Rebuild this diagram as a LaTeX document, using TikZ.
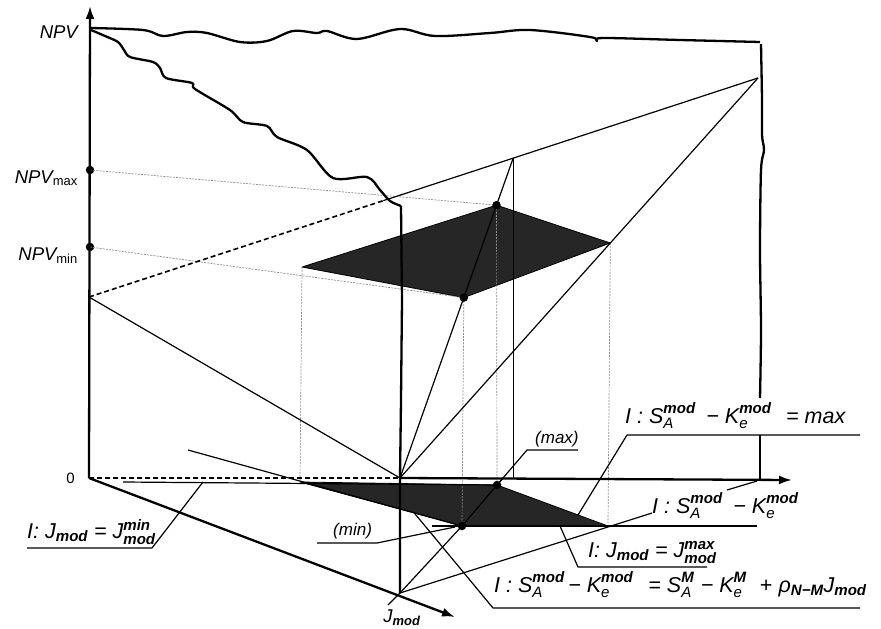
\documentclass[tikz,border=0pt]{standalone}
\usepackage{amsmath}
\usepackage{fontspec}
\setmainfont{Liberation Sans}
\usetikzlibrary{arrows.meta,calc}
\newcommand{\mo}{\text{\bfseries\itshape mod}}
\newcommand{\bi}[1]{\text{\bfseries\itshape #1}}
\newcommand{\ti}[1]{\text{\itshape #1}}
\begin{document}
\begin{tikzpicture}[x=1pt,y=-1pt,
  thk/.style={line width=2.3pt},
  thn/.style={line width=1.2pt},
  proj/.style={line width=0.7pt, black!45, dash pattern=on 2pt off 1.2pt},
  dsh/.style={line width=1.6pt, dash pattern=on 5pt off 3pt},
  quad/.style={fill=black!85, draw=black, line width=0.8pt},
  dot/.style={circle, fill=black, inner sep=0pt, minimum size=8.5pt},
  lbl/.style={font=\fontsize{21.5}{24}\selectfont\itshape, inner sep=0pt},
  sml/.style={font=\fontsize{17}{20}\selectfont\itshape, inner sep=0pt},
  axl/.style={font=\fontsize{18.5}{21}\selectfont\itshape, inner sep=0pt},
  arr/.style={-{Latex[length=13pt,width=9pt]}},
  line join=round]
\useasboundingbox (0,0) rectangle (881,629);
% coordinates
\coordinate (O) at (89,478);
\coordinate (Ytip) at (90,6);
\coordinate (Xtip) at (792,480);
\coordinate (Jtip) at (455,617);
\coordinate (J) at (400,593);
\coordinate (Jb) at (388,605);
\coordinate (F0) at (400,478);
\coordinate (A) at (89,297);
\coordinate (C) at (758,78);
\coordinate (Cd) at ($(A)!0.44!(C)$);
\coordinate (T) at ($(A)!0.634!(C)$);
\coordinate (Tb) at (T |- F0);
\coordinate (UL) at (302,267);
\coordinate (Utop) at ($(F0)!0.853!(T)$);
\coordinate (Ubot) at ($(F0)!0.564!(T)$);
\coordinate (UR) at ($(F0)!0.5875!(C)$);
\coordinate (LL) at (300,482);
\coordinate (Ltop) at (497,485);
\coordinate (LR) at (608,526);
\coordinate (Lbot) at (462,526);
\coordinate (Lext) at ($(J)!1.07!(Ltop)$);
\coordinate (P1) at (188,450);
\coordinate (Q1) at (123,482);
\coordinate (M1) at (432,526);
\coordinate (M2) at (757,526);
\coordinate (K2) at (652,513);
\coordinate (RVa) at (760,398);
\coordinate (RVb) at (760,435);
\coordinate (RVc) at (760,480);
% quads
\fill[quad] (UL) -- (Utop) -- (UR) -- (Ubot) -- cycle;
\fill[quad] (LL) -- (Ltop) -- (LR) -- (Lbot) -- cycle;
% dots on NPV axis
\node[dot] (dNmax) at (90,170) {};
\node[dot] (dNmin) at (90,247) {};
% projection lines
\draw[proj] (dNmax.center) -- (Utop);
\draw[proj] (dNmin.center) -- (Ubot);
\draw[proj] (UL) -- (LL);
\draw[proj] (Utop) -- (Ltop);
\draw[proj] (Ubot) -- (Lbot);
\draw[proj] (UR) -- (LR);
% thin construction lines
\draw[dsh] (A) -- (Cd);
\draw[thn] (Cd) -- (C);
\draw[thn] (A) -- (F0);
\draw[thn] (F0) -- (C);
\draw[thn] (F0) -- (T);
\draw[thn] (T) -- (Tb);
\draw[thn] (Jb) -- (J) -- (Lbot) -- (Ltop) -- (Lext);
\draw[thn] (J) -- (K2);
\draw[thn] (P1) -- (Lbot);
\draw[thn] (Q1) -- (Ltop);
\draw[thn] (M1) -- (M2);
% leaders
\draw[thn] (27,548) -- (152,548) -- (203,482);
\draw[thn] (317,543) -- (377,543) -- (455,527);
\draw[thn] (Ltop) -- (527,450) -- (578,450);
\draw[thn] ($(Ltop)!0.73!(LR)$) -- (627,435) -- (860,435);
\draw[thn] (727,490) -- (757,481);
\draw[thn] (560,526) -- (578,567) -- (707,567);
\draw[thn] ($(P1)!0.825!(Lbot)$) -- (493,608) -- (860,608);
% curves
\draw[thk] plot[smooth, tension=0.55] coordinates {(90,28) (143,30) (163,36) (187,32) (207,33) (240,42) (267,41) (293,31) (317,33) (327,31) (357,39) (400,29) (435,36) (490,33) (530,30) (590,37) (597,41) (603,38) (680,40) (760,42)};
\draw[thk] plot[smooth, tension=0.5] coordinates {(91,30) (105,36) (118,42) (124,50) (130,57) (153,62) (160,68) (166,78) (192,83) (195,89) (230,110) (243,122) (267,126) (277,137) (307,150) (333,178) (367,177) (380,190) (390,201) (401,206)};
\draw[thk] (401,206) -- (402,300) -- (401,400) -- (F0) -- (J);
\draw[thk] plot[smooth, tension=0.5] coordinates {(761,44) (762,100) (762,135) (764,150) (761,170) (760,250) (761,330) (RVa)};
\draw[thk] (RVb) -- (RVc);
% axes
\draw[thk,arr] (O) -- (Ytip);
\draw[dsh,line width=1.9pt] (O) -- (F0);
\draw[thk,arr] (F0) -- (Xtip);
\draw[thk,arr] (O) -- (Jtip);
% dots
\node[dot] (dUt) at (Utop) {};
\node[dot] (dUb) at (Ubot) {};
\node[dot] (dLt) at (Ltop) {};
\node[dot] (dLb) at (Lbot) {};
% axis labels
\node[axl, anchor=base east] (tNPV) at (78,38) {NPV};
\node[axl, anchor=base east] (tNmax) at (78,183) {NPV\textsubscript{\normalfont max}};
\node[axl, anchor=base east] (tNmin) at (78,260) {NPV\textsubscript{\normalfont min}};
\node[font=\fontsize{15}{18}\selectfont, inner sep=0pt, anchor=base east] (t0) at (75,483) {0};
\node[axl, anchor=base] (tJ) at (402,622) {J$_{\mo}$};
% labels
\node[lbl, anchor=base west] (t6) at (27,538) {I:\ J$_{\mo}$ = J$^{\bi{min}}_{\mo}$};
\node[sml, anchor=base west] (t7) at (333,535) {(min)};
\node[sml, anchor=base west] (t8) at (535,443) {(max)};
\node[lbl, anchor=base west] (t9) at (625,423) {I : $\ti{S}^{\mo}_{\ti{A}}$\hspace{0.5em}− $\ti{K}^{\mo}_{\ti{e}}$\hspace{0.4em} = max};
\node[lbl, anchor=base west] (t10) at (652,513) {I : $\ti{S}^{\mo}_{\ti{A}}$\hspace{0.5em}− $\ti{K}^{\mo}_{\ti{e}}$};
\node[lbl, anchor=base west] (t11) at (588,557) {I:\ J$_{\mo}$ = J$^{\bi{max}}_{\mo}$};
\node[lbl, anchor=base west] (t12) at (494,592) {I : $\ti{S}^{\mo}_{\ti{A}}$\,− $\ti{K}^{\mo}_{\ti{e}}$\hspace{0.7em}= $\ti{S}^{\bi{M}}_{\ti{A}}$\hspace{0.3em}− $\ti{K}^{\bi{M}}_{\ti{e}}$\hspace{0.6em}+\hspace{0.3em}ρ$_{\bi{N−M}}$J$_{\mo}$};
\end{tikzpicture}
\end{document}
